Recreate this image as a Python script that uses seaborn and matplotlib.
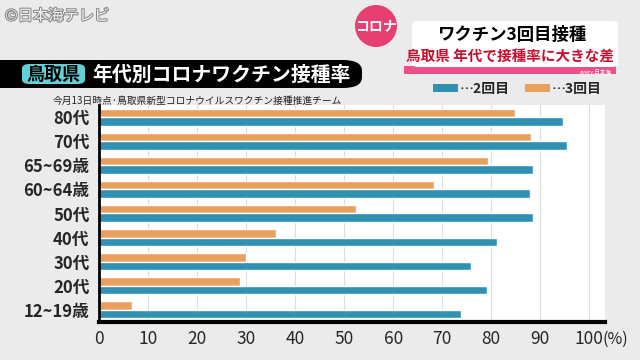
import pandas as pd
import matplotlib.pyplot as plt
import matplotlib.patheffects as pe
import seaborn as sns
from matplotlib.patches import FancyBboxPatch, Ellipse, Rectangle

# data (Tottori, vaccination rate by age, %)
age_groups = ["80代", "70代", "65~69歳", "60~64歳", "50代", "40代", "30代", "20代", "12~19歳"]
dose2 = [94.7, 95.5, 88.5, 88.0, 88.6, 81.1, 75.9, 79.1, 73.9]
dose3 = [84.8, 88.1, 79.3, 68.3, 52.4, 36.0, 29.9, 28.7, 6.7]
x_ticks = [0, 10, 20, 30, 40, 50, 60, 70, 80, 90, 100]

TEAL = "#2f92b5"
ORANGE = "#e9a05c"
BG = "#ebebeb"

df = pd.DataFrame({
    "age": age_groups * 2,
    "rate": dose2 + dose3,
    "dose": ["2回目"] * len(age_groups) + ["3回目"] * len(age_groups),
})

sns.set_theme(style="white")
plt.rcParams["font.family"] = ["Noto Sans CJK JP", "DejaVu Sans"]

fig = plt.figure(figsize=(6.4, 3.6), dpi=100)
fig.patch.set_facecolor(BG)
ax = fig.add_axes([0.155, 0.106, 0.79, 0.602])
ax.set_facecolor("white")

sns.barplot(data=df, x="rate", y="age", hue="dose", order=age_groups,
            hue_order=["3回目", "2回目"], palette={"2回目": TEAL, "3回目": ORANGE},
            orient="h", width=0.7, saturation=1, legend=False, ax=ax)

ax.set_xlim(0, 103.2)
ax.set_ylim(8.5, -0.5)
ax.set_xticks(x_ticks)
ax.set_xticklabels([str(t) for t in x_ticks], fontsize=12.5)
ax.tick_params(axis="x", length=0, pad=6)
ax.tick_params(axis="y", length=0, pad=7, labelsize=12)
for lab in ax.get_yticklabels():
    lab.set_fontweight("bold")
# unit sits right after the last tick label
ax.annotate("(%)", xy=(1, 0), xycoords=ax.get_xticklabels()[-1], xytext=(-1, 0),
            textcoords="offset points", ha="left", va="bottom", fontsize=11.5)
ax.set_xlabel("")
ax.set_ylabel("")
ax.grid(axis="x", color="#dddddd", linewidth=0.8)
ax.set_axisbelow(True)
for side in ["top", "right"]:
    ax.spines[side].set_visible(False)
ax.spines["left"].set_color("black")
ax.spines["left"].set_linewidth(2)
ax.spines["bottom"].set_color("black")
ax.spines["bottom"].set_linewidth(3)


def px(x, y):
    return x / 640, 1 - y / 360


# header bar
fig.patches.append(FancyBboxPatch(px(-20, 88), 382 / 640, 28 / 360,
                                  boxstyle="round,pad=0,rounding_size=0.03",
                                  transform=fig.transFigure, facecolor="black",
                                  edgecolor="none"))
fig.patches.append(FancyBboxPatch(px(22, 84), 63 / 640, 20 / 360,
                                  boxstyle="round,pad=0,rounding_size=0.012",
                                  transform=fig.transFigure, facecolor="#63cfd6",
                                  edgecolor="none"))
fig.text(*px(53.5, 74), "鳥取県", fontsize=13, fontweight="bold", color="black",
         ha="center", va="center")
fig.text(*px(92, 74), "年代別コロナワクチン接種率", fontsize=14.3, fontweight="bold",
         color="white", ha="left", va="center")
fig.text(*px(53, 101), "今月13日時点·鳥取県新型コロナウイルスワクチン接種推進チーム",
         fontsize=7, color="#222222", ha="left", va="center")

# legend
fig.patches.append(Rectangle(px(433, 92), 25 / 640, 8 / 360, transform=fig.transFigure,
                             facecolor=TEAL, edgecolor="none"))
fig.text(*px(460, 88.5), "…2回目", fontsize=10, fontweight="bold", ha="left", va="center")
fig.patches.append(Rectangle(px(525, 92), 25 / 640, 8 / 360, transform=fig.transFigure,
                             facecolor=ORANGE, edgecolor="none"))
fig.text(*px(552, 88.5), "…3回目", fontsize=10, fontweight="bold", ha="left", va="center")

# news caption box
fig.patches.append(Rectangle(px(404, 74), 212 / 640, 8 / 360, transform=fig.transFigure,
                             facecolor="#ec4f8c", edgecolor="none"))
fig.patches.append(FancyBboxPatch(px(412, 67), 206 / 640, 46 / 360,
                                  boxstyle="round,pad=0,rounding_size=0.01",
                                  transform=fig.transFigure, facecolor="white",
                                  edgecolor="none"))
fig.patches.append(Ellipse(px(376, 26), 42 / 640, 42 / 360, transform=fig.transFigure,
                           facecolor="#e83f73", edgecolor="none"))
fig.text(*px(376, 26), "コロナ", fontsize=10, fontweight="bold", color="white",
         ha="center", va="center")
fig.text(*px(512, 35), "ワクチン3回目接種", fontsize=12.5, fontweight="bold",
         color="black", ha="center", va="center")
fig.text(*px(510, 56), "鳥取県 年代で接種率に大きな差", fontsize=10.5, fontweight="bold",
         color="#c8102e", ha="center", va="center")
fig.text(*px(612, 72), "every.日本海", fontsize=4, color="white", ha="right", va="center")

# channel watermark
fig.text(*px(5, 16), "©日本海テレビ", fontsize=11, color="#f4f4f4", ha="left", va="center",
         path_effects=[pe.withStroke(linewidth=1.5, foreground="#888888")])

fig.savefig("out.png", dpi=100, facecolor=fig.get_facecolor())
